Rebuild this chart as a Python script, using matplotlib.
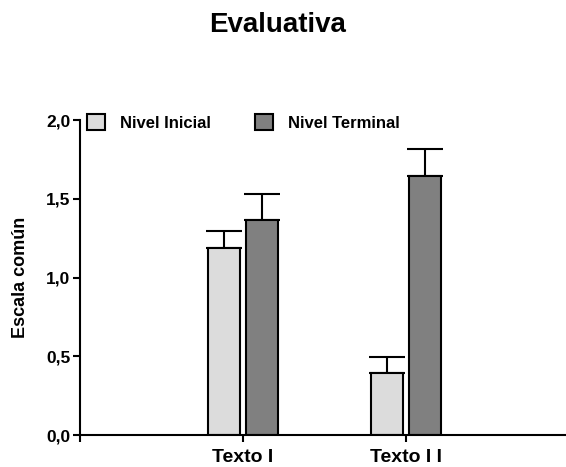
import numpy as np
import matplotlib
matplotlib.rcParams['font.family'] = ['Liberation Sans', 'DejaVu Sans']
matplotlib.rcParams['font.weight'] = 'bold'
import matplotlib.pyplot as plt

categories = ['Texto I', 'Texto I I']
series = ['Nivel Inicial', 'Nivel Terminal']
inicial = [1.185, 0.395]
inicial_err = [0.11, 0.10]
terminal = [1.365, 1.645]
terminal_err = [0.165, 0.17]
yticks = [0.0, 0.5, 1.0, 1.5, 2.0]
ytick_labels = ['0,0', '0,5', '1,0', '1,5', '2,0']

fig = plt.figure(figsize=(5.66, 4.67), dpi=100)
ax = fig.add_axes([0.1413, 0.0685, 0.864, 0.6745])

x = np.arange(1, len(categories) + 1)
w = 0.2
off = 0.117
colors = ['#dcdcdc', '#808080']
for vals, errs, sgn, c, name in [(inicial, inicial_err, -1, colors[0], series[0]),
                                 (terminal, terminal_err, 1, colors[1], series[1])]:
    ax.bar(x + sgn * off, vals, w, color=c, edgecolor='black', linewidth=1.5,
           label=name, zorder=2)
    ax.errorbar(x + sgn * off, vals, yerr=[np.zeros(len(errs)), errs], fmt='none',
                ecolor='black', elinewidth=1.5, capsize=13, capthick=1.5, zorder=1)

ax.set_xlim(0, 3)
ax.set_ylim(0, 2.0)
ax.set_yticks(yticks)
ax.set_yticklabels(ytick_labels, fontsize=12.5, fontweight='bold')
ax.set_xticks([0] + list(x))
ax.set_xticklabels([''] + categories, fontsize=14, fontweight='bold')
ax.tick_params(axis='both', direction='out', length=5, width=1.5, color='black')
ax.tick_params(axis='x', pad=5)
ax.tick_params(axis='y', pad=2)
for s in ['top', 'right']:
    ax.spines[s].set_visible(False)
for s in ['left', 'bottom']:
    ax.spines[s].set_linewidth(1.5)
ax.set_ylabel('Escala común', fontsize=13, fontweight='bold', labelpad=12)

fig.text(0.49, 0.947, 'Evaluativa', ha='center', va='center', fontsize=20, fontweight='bold')

fig.legend(loc='center left', bbox_to_anchor=(0.154, 0.737), ncol=2, frameon=False,
           fontsize=12, handlelength=1.1, handleheight=1.1, handletextpad=0.9,
           columnspacing=2.6, borderaxespad=0, borderpad=0)

plt.savefig('out.png', dpi=100)
plt.close(fig)
